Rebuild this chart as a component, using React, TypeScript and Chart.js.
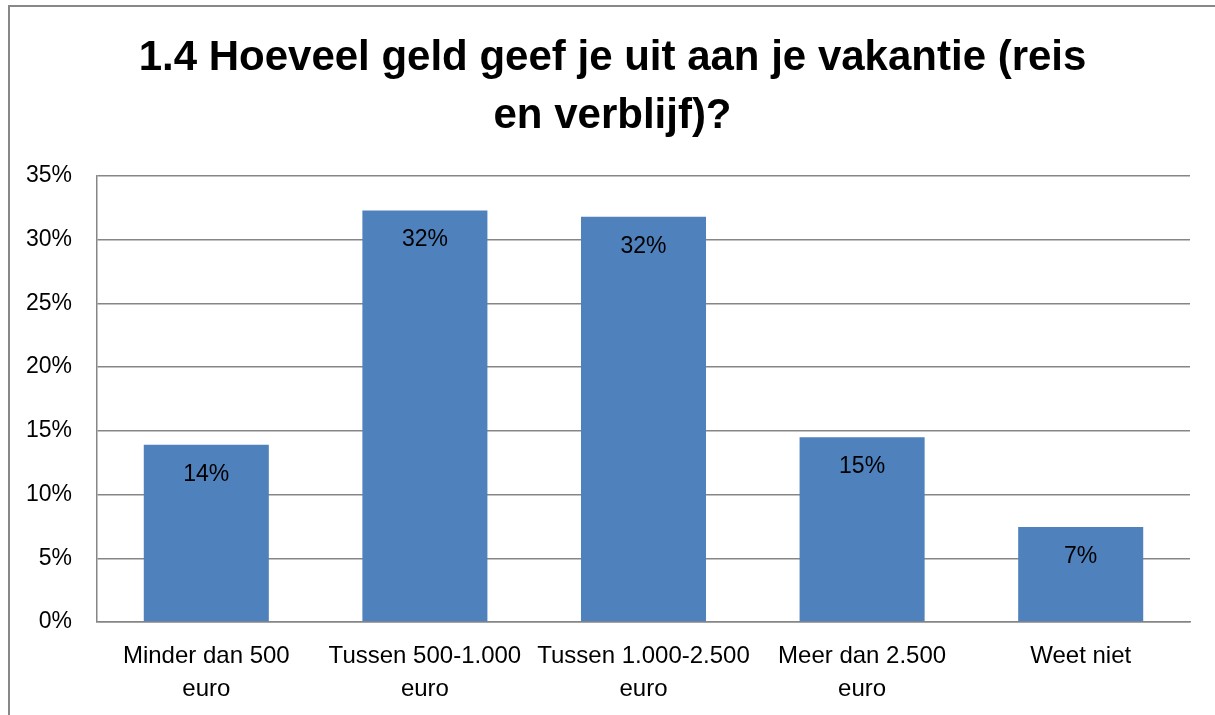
import React, { useEffect, useRef } from "react";
import { Chart, registerables } from "chart.js";

Chart.register(...registerables);

const titleLines = ["1.4 Hoeveel geld geef je uit aan je vakantie (reis", "en verblijf)?"];
const categories = [
  ["Minder dan 500", "euro"],
  ["Tussen 500-1.000", "euro"],
  ["Tussen 1.000-2.500", "euro"],
  ["Meer dan 2.500", "euro"],
  ["Weet niet"],
];
const values = [13.9, 32.3, 31.8, 14.5, 7.45];
const yMin = 0;
const yMax = 35;
const yStep = 5;

const FONT = "'Liberation Sans', Arial, sans-serif";

const dataLabelPlugin = {
  id: "dataLabels",
  afterDatasetsDraw(chart: any) {
    const ctx = chart.ctx;
    const meta = chart.getDatasetMeta(0);
    ctx.save();
    ctx.font = `23px ${FONT}`;
    ctx.fillStyle = "#000";
    ctx.textAlign = "center";
    ctx.textBaseline = "middle";
    meta.data.forEach((bar: any, i: number) => {
      const v = chart.data.datasets[0].data[i] as number;
      ctx.fillText(`${Math.round(v)}%`, bar.x, bar.y + 29.5);
    });
    ctx.restore();
  },
};

export default function App() {
  const ref = useRef<HTMLCanvasElement>(null);
  useEffect(() => {
    document.body.style.overflow = "hidden";
    const chart = new Chart(ref.current!, {
      type: "bar",
      data: {
        labels: categories,
        datasets: [
          {
            data: values,
            backgroundColor: "#4F81BD",
            borderWidth: 0,
            categoryPercentage: 1,
            barPercentage: 0.572,
          },
        ],
      },
      options: {
        animation: false,
        responsive: false,
        devicePixelRatio: 1,
        layout: { padding: 0 },
        plugins: {
          legend: { display: false },
          tooltip: { enabled: false },
          title: {
            display: true,
            text: titleLines,
            color: "#000",
            font: { family: FONT, size: 42, weight: "bold", lineHeight: 58 / 42 },
            padding: { top: 22, bottom: 31 },
          },
        },
        scales: {
          x: {
            grid: { display: false, drawTicks: false },
            border: { display: true, color: "#868686", width: 1.5 },
            ticks: {
              color: "#000",
              font: { family: FONT, size: 24, lineHeight: 32.5 / 24 },
              padding: 18.5,
              maxRotation: 0,
              autoSkip: false,
            },
            afterFit(scale: any) {
              scale.height = 93;
            },
          },
          y: {
            min: yMin,
            max: yMax,
            grid: { color: "#868686", lineWidth: 1.5, drawTicks: false },
            border: { display: true, color: "#868686", width: 1.5 },
            ticks: {
              stepSize: yStep,
              color: "#000",
              font: { family: FONT, size: 23 },
              padding: 25,
              callback: (v: any) => `${v}%`,
            },
            afterFit(scale: any) {
              scale.width = 87;
            },
          },
          spacer: {
            type: "linear",
            position: "right",
            display: true,
            min: yMin,
            max: yMax,
            grid: { display: false, drawTicks: false },
            border: { display: false },
            ticks: { display: false },
            afterFit(scale: any) {
              scale.width = 25;
            },
          },
        },
      },
      plugins: [dataLabelPlugin],
    } as any);
    return () => chart.destroy();
  }, []);

  return (
    <div
      style={{
        position: "absolute",
        left: 8,
        top: 5,
        width: 1207,
        height: 710,
        boxSizing: "border-box",
        borderTop: "2px solid #888",
        borderLeft: "2px solid #888",
        background: "#fff",
      }}
    >
      <canvas ref={ref} width={1205} height={708} style={{ display: "block" }} />
    </div>
  );
}
